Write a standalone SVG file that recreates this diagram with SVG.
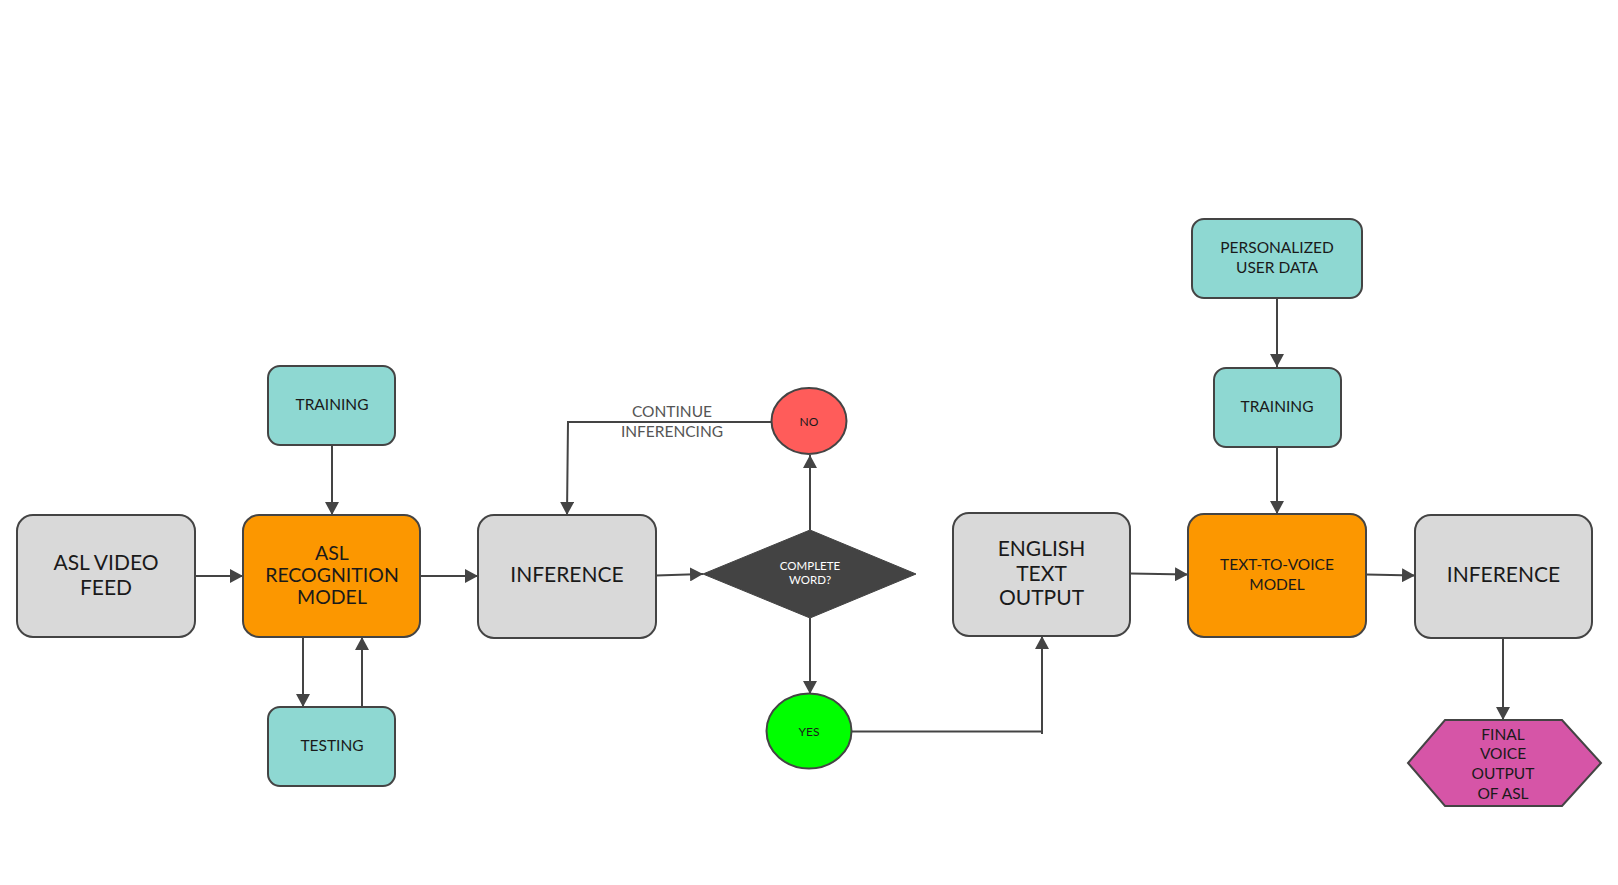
<svg xmlns="http://www.w3.org/2000/svg" width="1618" height="885" viewBox="0 0 1618 885">
  <defs>
    <marker id="arrow" viewBox="0 0 13 14" refX="13" refY="7" markerWidth="13" markerHeight="14" markerUnits="userSpaceOnUse" orient="auto">
      <path d="M0,0 L13,7 L0,14 Z" fill="#444444"/>
    </marker>
  </defs>
  <style>
    .box { stroke: #444444; stroke-width: 2; }
    .gray { fill: #d9d9d9; }
    .orange { fill: #fc9700; }
    .teal { fill: #8ed8d2; }
    .t { font-family: Lato, "Open Sans", "Liberation Sans", sans-serif; font-weight: 400; fill: #1a1a1a; text-anchor: middle; }
    .big { font-size: 21px; }
    .mid { font-size: 15.5px; }
    .small { font-size: 12px; }
    .conn { fill: none; stroke: #444444; stroke-width: 2; }
  </style>
  <rect width="1618" height="885" fill="#ffffff"/>

  <!-- connectors -->
  <g id="connectors">
    <path class="conn" d="M195,576 L243,576" marker-end="url(#arrow)"/>
    <path class="conn" d="M332,445 L332,515" marker-end="url(#arrow)"/>
    <path class="conn" d="M303,637 L303,707" marker-end="url(#arrow)"/>
    <path class="conn" d="M362,707 L362,637" marker-end="url(#arrow)"/>
    <path class="conn" d="M420,576 L478,576" marker-end="url(#arrow)"/>
    <path class="conn" d="M656,575.5 L703,574" marker-end="url(#arrow)"/>
    <path class="conn" d="M810,530 L810,455" marker-end="url(#arrow)"/>
    <path class="conn" d="M772,422 L568,422 L567,515" marker-end="url(#arrow)"/>
    <path class="conn" d="M810,618 L810,694" marker-end="url(#arrow)"/>
    <path class="conn" d="M852,731.5 L1042,731.5"/>
    <path class="conn" d="M1042,734 L1042,636" marker-end="url(#arrow)"/>
    <path class="conn" d="M1130,573.5 L1188,574.5" marker-end="url(#arrow)"/>
    <path class="conn" d="M1277,298 L1277,367" marker-end="url(#arrow)"/>
    <path class="conn" d="M1277,447 L1277,514" marker-end="url(#arrow)"/>
    <path class="conn" d="M1366,574.5 L1415,575.5" marker-end="url(#arrow)"/>
    <path class="conn" d="M1503,638 L1503,720" marker-end="url(#arrow)"/>
    <text class="t mid" x="672" y="417" style="fill:#555555">CONTINUE</text>
    <text class="t mid" x="672" y="437" style="fill:#555555">INFERENCING</text>
  </g>

  <g id="asl-video-feed">
    <rect class="box gray" x="17" y="515" width="178" height="122" rx="16"/>
    <text class="t big" x="106" y="570">ASL VIDEO</text>
    <text class="t big" x="106" y="595">FEED</text>
  </g>

  <g id="asl-recognition-model">
    <rect class="box orange" x="243" y="515" width="177" height="122" rx="16"/>
    <text class="t big" x="332" y="560" style="font-size:19.5px">ASL</text>
    <text class="t big" x="332" y="582" style="font-size:19.5px">RECOGNITION</text>
    <text class="t big" x="332" y="604" style="font-size:19.5px">MODEL</text>
  </g>

  <g id="training-asl">
    <rect class="box teal" x="268" y="366" width="127" height="79" rx="12"/>
    <text class="t mid" x="332" y="410">TRAINING</text>
  </g>

  <g id="testing-asl">
    <rect class="box teal" x="268" y="707" width="127" height="79" rx="12"/>
    <text class="t mid" x="332" y="751">TESTING</text>
  </g>

  <g id="inference-asl">
    <rect class="box gray" x="478" y="515" width="178" height="123" rx="16"/>
    <text class="t big" x="567" y="582">INFERENCE</text>
  </g>

  <g id="complete-word">
    <polygon points="810,530 916,574 810,618 703,574" fill="#434343" stroke="#434343" stroke-width="1"/>
    <text class="t small" x="810" y="570" style="fill:#ffffff;font-size:11.5px">COMPLETE</text>
    <text class="t small" x="810" y="584" style="fill:#ffffff;font-size:11.5px">WORD?</text>
  </g>

  <g id="no">
    <ellipse class="box" cx="809" cy="421" rx="37.5" ry="33" fill="#ff5c5a"/>
    <text class="t small" x="809" y="425.5">NO</text>
  </g>

  <g id="yes">
    <ellipse class="box" cx="809" cy="731" rx="42.5" ry="37.5" fill="#00ff00"/>
    <text class="t small" x="809" y="735.5">YES</text>
  </g>

  <g id="english-text-output">
    <rect class="box gray" x="953" y="513" width="177" height="123" rx="16"/>
    <text class="t big" x="1041.5" y="556">ENGLISH</text>
    <text class="t big" x="1041.5" y="581">TEXT</text>
    <text class="t big" x="1041.5" y="605">OUTPUT</text>
  </g>

  <g id="personalized-user-data">
    <rect class="box teal" x="1192" y="219" width="170" height="79" rx="12"/>
    <text class="t mid" x="1277" y="253">PERSONALIZED</text>
    <text class="t mid" x="1277" y="273">USER DATA</text>
  </g>

  <g id="training-voice">
    <rect class="box teal" x="1214" y="368" width="127" height="79" rx="12"/>
    <text class="t mid" x="1277" y="411.5">TRAINING</text>
  </g>

  <g id="text-to-voice-model">
    <rect class="box orange" x="1188" y="514" width="178" height="123" rx="16"/>
    <text class="t mid" x="1277" y="570">TEXT-TO-VOICE</text>
    <text class="t mid" x="1277" y="590">MODEL</text>
  </g>

  <g id="inference-voice">
    <rect class="box gray" x="1415" y="515" width="177" height="123" rx="16"/>
    <text class="t big" x="1503.5" y="581.5">INFERENCE</text>
  </g>

  <g id="final-voice-output">
    <polygon class="box" points="1445,720 1562,720 1601,763 1562,806 1445,806 1408,763" fill="#d655a7"/>
    <text class="t mid" x="1503" y="739.5">FINAL</text>
    <text class="t mid" x="1503" y="759">VOICE</text>
    <text class="t mid" x="1503" y="778.5">OUTPUT</text>
    <text class="t mid" x="1503" y="798.5">OF ASL</text>
  </g>
</svg>
